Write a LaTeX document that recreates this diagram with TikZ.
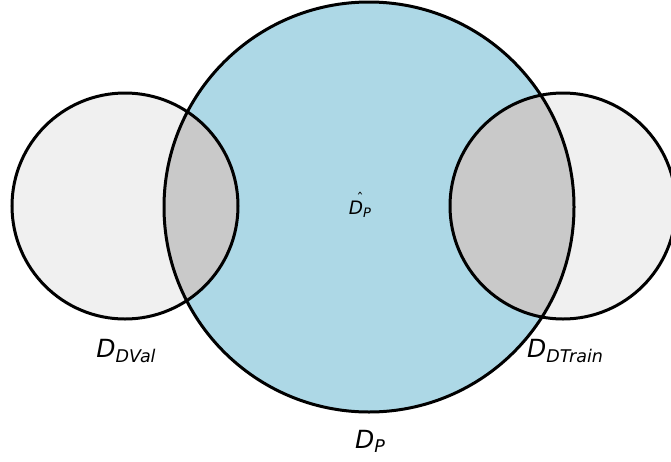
\documentclass[tikz,border=0pt]{standalone}
\usepackage{fontspec}
\setmainfont{DejaVu Sans}
\definecolor{bigblue}{HTML}{ADD8E6}
\definecolor{sidegray}{HTML}{F0F0F0}
\definecolor{overgray}{HTML}{C9C9C9}
\newcommand{\mysub}[1]{\raisebox{-0.3ex}{\fontsize{17.5}{19}\selectfont #1}}
\begin{document}
\begin{tikzpicture}[x=1pt,y=-1pt,
  circ/.style={draw=black, line width=3pt},
  lbl/.style={font=\fontsize{25}{28}\selectfont\itshape, inner sep=0pt},
  smalllbl/.style={font=\fontsize{18.5}{20}\selectfont\itshape, inner sep=0pt}]
\useasboundingbox (0,0) rectangle (671,461);
\clip (0,0) rectangle (671,461);
\coordinate (cv) at (125,206);
\coordinate (ct) at (563,206);
\coordinate (cp) at (369,207);
\fill[sidegray] (cv) circle (113);
\fill[sidegray] (ct) circle (113);
\fill[bigblue] (cp) circle (205);
\begin{scope}
  \clip (cp) circle (205);
  \fill[overgray] (cv) circle (113);
  \fill[overgray] (ct) circle (113);
\end{scope}
\draw[circ] (cv) circle (113);
\draw[circ] (ct) circle (113);
\draw[circ] (cp) circle (205);
\node[lbl] (lval) at (126,351) {D\mysub{DVal}};
\node[lbl] (ltrain) at (565,351) {D\mysub{DTrain}};
\node[lbl] (lp) at (370,441) {D\mysub{P}};
\node[smalllbl] (lhat) at (360,206) {\vbox{\offinterlineskip\halign{\hfil#\hfil\cr \upshape\fontsize{14}{14}\selectfont\raisebox{-0.2em}[0.45em][0pt]{ˆ}\cr D\raisebox{-0.3ex}{\fontsize{13}{14}\selectfont P}\cr}}};
\end{tikzpicture}
\end{document}
